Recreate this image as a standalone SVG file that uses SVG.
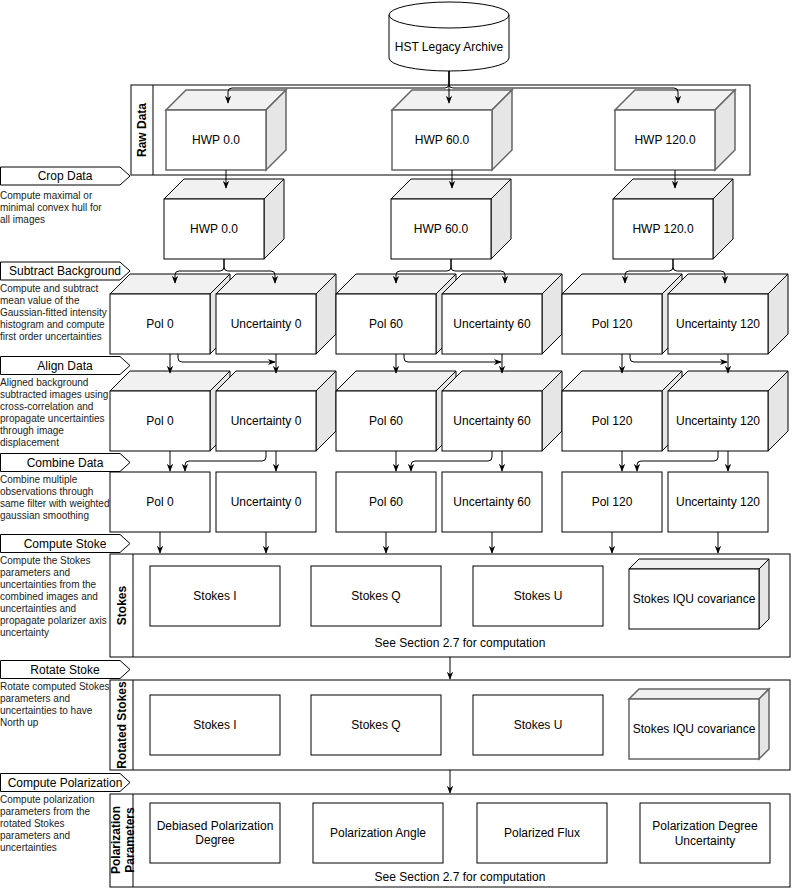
<svg xmlns="http://www.w3.org/2000/svg" width="792" height="894" viewBox="0 0 792 894">
<defs>
<style>
text{font-family:"Liberation Sans",Arial,Helvetica,sans-serif;font-size:12px;fill:#000;text-anchor:middle}
.d{font-size:10px;text-anchor:start;fill:#222}
.b{font-weight:bold}
.n{fill:#fff;stroke:#000;stroke-width:1}
.g{stroke:#666;stroke-width:1.5}
.tp{fill:#f1f1f1}
.sd{fill:#e6e6e6}
.e{fill:none;stroke:#000;stroke-width:1;marker-end:url(#a)}
.l{fill:none;stroke:#000;stroke-width:1}
</style>
<marker id="a" viewBox="0 0 10 10" refX="9" refY="5" markerWidth="8" markerHeight="8" orient="auto" markerUnits="userSpaceOnUse">
<path d="M0,1 L10,5 L0,9 L3,5 Z" fill="#000"/>
</marker>
</defs>
<rect width="792" height="894" fill="#fff"/>

<!-- containers -->
<g id="raw-data">
<rect class="n" x="131" y="85" width="619" height="90"/>
<line class="l" x1="153" y1="85" x2="153" y2="175"/>
<text class="b" transform="translate(142,130) rotate(-90)" y="4">Raw Data</text>
</g>
<g id="stokes">
<rect class="n" x="110" y="554" width="680" height="103"/>
<line class="l" x1="133" y1="554" x2="133" y2="657"/>
<text class="b" transform="translate(121.5,605.5) rotate(-90)" y="4">Stokes</text>
<text x="460" y="647">See Section 2.7 for computation</text>
</g>
<g id="rotated-stokes">
<rect class="n" x="110" y="680" width="680" height="90"/>
<line class="l" x1="133" y1="680" x2="133" y2="770"/>
<text class="b" transform="translate(121.5,725) rotate(-90)" y="4">Rotated Stokes</text>
</g>
<g id="polarization-parameters">
<rect class="n" x="110" y="794" width="680" height="93"/>
<line class="l" x1="133" y1="794" x2="133" y2="887"/>
<text class="b" transform="translate(122.5,840) rotate(-90)"><tspan x="0" y="-2.5">Polarization</tspan><tspan x="0" y="11">Parameters</tspan></text>
<text x="460" y="881">See Section 2.7 for computation</text>
</g>

<!-- source -->
<g id="hst-archive">
<path class="n" d="M389,15 A60,13 0 0 1 509,15 L509,58 A60,13 0 0 1 389,58 Z"/>
<path class="l" d="M389,15 A60,13 0 0 0 509,15"/>
<text x="449" y="51">HST Legacy Archive</text>
</g>

<!-- raw cubes -->
<g id="raw-hwp0">
<path class="n g tp" d="M166,110 L186,90 L286,90 L266,110 Z"/>
<path class="n g sd" d="M266,110 L286,90 L286,150 L266,170 Z"/>
<rect class="n g" x="166" y="110" width="100" height="60"/>
<text x="216" y="144">HWP 0.0</text>
</g>
<g id="raw-hwp60">
<path class="n g tp" d="M392,110 L412,90 L512,90 L492,110 Z"/>
<path class="n g sd" d="M492,110 L512,90 L512,150 L492,170 Z"/>
<rect class="n g" x="392" y="110" width="100" height="60"/>
<text x="442" y="144">HWP 60.0</text>
</g>
<g id="raw-hwp120">
<path class="n g tp" d="M615,110 L635,90 L735,90 L715,110 Z"/>
<path class="n g sd" d="M715,110 L735,90 L735,150 L715,170 Z"/>
<rect class="n g" x="615" y="110" width="100" height="60"/>
<text x="665" y="144">HWP 120.0</text>
</g>

<!-- crop cubes -->
<g id="crop-hwp0">
<path class="n tp" d="M164,199 L184,179 L284,179 L264,199 Z"/>
<path class="n sd" d="M264,199 L284,179 L284,239 L264,259 Z"/>
<rect class="n" x="164" y="199" width="100" height="60"/>
<text x="214" y="233">HWP 0.0</text>
</g>
<g id="crop-hwp60">
<path class="n tp" d="M391,199 L411,179 L511,179 L491,199 Z"/>
<path class="n sd" d="M491,199 L511,179 L511,239 L491,259 Z"/>
<rect class="n" x="391" y="199" width="100" height="60"/>
<text x="441" y="233">HWP 60.0</text>
</g>
<g id="crop-hwp120">
<path class="n tp" d="M613,199 L633,179 L733,179 L713,199 Z"/>
<path class="n sd" d="M713,199 L733,179 L733,239 L713,259 Z"/>
<rect class="n" x="613" y="199" width="100" height="60"/>
<text x="663" y="233">HWP 120.0</text>
</g>

<!-- subtract background row -->
<g id="sub-pol0">
<path class="n tp" d="M110,294 L130,274 L230,274 L210,294 Z"/>
<path class="n sd" d="M210,294 L230,274 L230,334 L210,354 Z"/>
<rect class="n" x="110" y="294" width="100" height="60"/>
<text x="160" y="328">Pol 0</text>
</g>
<g id="sub-unc0">
<path class="n tp" d="M216,294 L236,274 L336,274 L316,294 Z"/>
<path class="n sd" d="M316,294 L336,274 L336,334 L316,354 Z"/>
<rect class="n" x="216" y="294" width="100" height="60"/>
<text x="266" y="328">Uncertainty 0</text>
</g>
<g id="sub-pol60">
<path class="n tp" d="M336,294 L356,274 L456,274 L436,294 Z"/>
<path class="n sd" d="M436,294 L456,274 L456,334 L436,354 Z"/>
<rect class="n" x="336" y="294" width="100" height="60"/>
<text x="386" y="328">Pol 60</text>
</g>
<g id="sub-unc60">
<path class="n tp" d="M442,294 L462,274 L562,274 L542,294 Z"/>
<path class="n sd" d="M542,294 L562,274 L562,334 L542,354 Z"/>
<rect class="n" x="442" y="294" width="100" height="60"/>
<text x="492" y="328">Uncertainty 60</text>
</g>
<g id="sub-pol120">
<path class="n tp" d="M562,294 L582,274 L682,274 L662,294 Z"/>
<path class="n sd" d="M662,294 L682,274 L682,334 L662,354 Z"/>
<rect class="n" x="562" y="294" width="100" height="60"/>
<text x="612" y="328">Pol 120</text>
</g>
<g id="sub-unc120">
<path class="n tp" d="M668,294 L688,274 L788,274 L768,294 Z"/>
<path class="n sd" d="M768,294 L788,274 L788,334 L768,354 Z"/>
<rect class="n" x="668" y="294" width="100" height="60"/>
<text x="718" y="328">Uncertainty 120</text>
</g>

<!-- align row -->
<g id="align-pol0">
<path class="n tp" d="M110,391 L130,371 L230,371 L210,391 Z"/>
<path class="n sd" d="M210,391 L230,371 L230,431 L210,451 Z"/>
<rect class="n" x="110" y="391" width="100" height="60"/>
<text x="160" y="425">Pol 0</text>
</g>
<g id="align-unc0">
<path class="n tp" d="M216,391 L236,371 L336,371 L316,391 Z"/>
<path class="n sd" d="M316,391 L336,371 L336,431 L316,451 Z"/>
<rect class="n" x="216" y="391" width="100" height="60"/>
<text x="266" y="425">Uncertainty 0</text>
</g>
<g id="align-pol60">
<path class="n tp" d="M336,391 L356,371 L456,371 L436,391 Z"/>
<path class="n sd" d="M436,391 L456,371 L456,431 L436,451 Z"/>
<rect class="n" x="336" y="391" width="100" height="60"/>
<text x="386" y="425">Pol 60</text>
</g>
<g id="align-unc60">
<path class="n tp" d="M442,391 L462,371 L562,371 L542,391 Z"/>
<path class="n sd" d="M542,391 L562,371 L562,431 L542,451 Z"/>
<rect class="n" x="442" y="391" width="100" height="60"/>
<text x="492" y="425">Uncertainty 60</text>
</g>
<g id="align-pol120">
<path class="n tp" d="M562,391 L582,371 L682,371 L662,391 Z"/>
<path class="n sd" d="M662,391 L682,371 L682,431 L662,451 Z"/>
<rect class="n" x="562" y="391" width="100" height="60"/>
<text x="612" y="425">Pol 120</text>
</g>
<g id="align-unc120">
<path class="n tp" d="M668,391 L688,371 L788,371 L768,391 Z"/>
<path class="n sd" d="M768,391 L788,371 L788,431 L768,451 Z"/>
<rect class="n" x="668" y="391" width="100" height="60"/>
<text x="718" y="425">Uncertainty 120</text>
</g>

<!-- combine row -->
<g id="comb-pol0"><rect class="n" x="110" y="472" width="100" height="60"/><text x="160" y="506">Pol 0</text></g>
<g id="comb-unc0"><rect class="n" x="216" y="472" width="100" height="60"/><text x="266" y="506">Uncertainty 0</text></g>
<g id="comb-pol60"><rect class="n" x="336" y="472" width="100" height="60"/><text x="386" y="506">Pol 60</text></g>
<g id="comb-unc60"><rect class="n" x="442" y="472" width="100" height="60"/><text x="492" y="506">Uncertainty 60</text></g>
<g id="comb-pol120"><rect class="n" x="562" y="472" width="100" height="60"/><text x="612" y="506">Pol 120</text></g>
<g id="comb-unc120"><rect class="n" x="668" y="472" width="100" height="60"/><text x="718" y="506">Uncertainty 120</text></g>

<!-- stokes -->
<g id="stokes-i"><rect class="n" x="150" y="566" width="130" height="60"/><text x="215" y="600">Stokes I</text></g>
<g id="stokes-q"><rect class="n" x="311" y="566" width="130" height="60"/><text x="376" y="600">Stokes Q</text></g>
<g id="stokes-u"><rect class="n" x="473" y="566" width="130" height="60"/><text x="538" y="600">Stokes U</text></g>
<g id="stokes-cov">
<path class="n tp" d="M629,569 L639,559 L769,559 L759,569 Z"/>
<path class="n sd" d="M759,569 L769,559 L769,619 L759,629 Z"/>
<rect class="n" x="629" y="569" width="130" height="60"/>
<text x="694" y="603">Stokes IQU covariance</text>
</g>

<!-- rotated stokes -->
<g id="rot-i"><rect class="n" x="150" y="695" width="130" height="60"/><text x="215" y="729">Stokes I</text></g>
<g id="rot-q"><rect class="n" x="311" y="695" width="130" height="60"/><text x="376" y="729">Stokes Q</text></g>
<g id="rot-u"><rect class="n" x="473" y="695" width="130" height="60"/><text x="538" y="729">Stokes U</text></g>
<g id="rot-cov">
<path class="n g tp" d="M629,699 L639,689 L769,689 L759,699 Z"/>
<path class="n g sd" d="M759,699 L769,689 L769,749 L759,759 Z"/>
<rect class="n g" x="629" y="699" width="130" height="60"/>
<text x="694" y="733">Stokes IQU covariance</text>
</g>

<!-- polarization parameters -->
<g id="pol-debiased"><rect class="n" x="150" y="803" width="130" height="60"/><text x="215"><tspan x="215" y="830">Debiased Polarization</tspan><tspan x="215" y="844">Degree</tspan></text></g>
<g id="pol-angle"><rect class="n" x="313" y="803" width="130" height="60"/><text x="378" y="837">Polarization Angle</text></g>
<g id="pol-flux"><rect class="n" x="477" y="803" width="130" height="60"/><text x="542" y="837">Polarized Flux</text></g>
<g id="pol-deg-unc"><rect class="n" x="640" y="803" width="130" height="60"/><text x="705"><tspan x="705" y="830">Polarization Degree</tspan><tspan x="705" y="845">Uncertainty</tspan></text></g>

<!-- step labels -->
<g id="step-crop">
<path class="n" d="M0.5,167 L120,167 L130,176 L120,185 L0.5,185 Z"/>
<text x="65" y="180">Crop Data</text>
<text class="d"><tspan x="0" y="199">Compute maximal or</tspan><tspan x="0" y="211">minimal convex hull for</tspan><tspan x="0" y="223">all images</tspan></text>
</g>
<g id="step-subtract">
<path class="n" d="M0.5,262 L120,262 L130,271 L120,280 L0.5,280 Z"/>
<text x="65" y="275">Subtract Background</text>
<text class="d"><tspan x="0" y="292">Compute and subtract</tspan><tspan x="0" y="304">mean value of the</tspan><tspan x="0" y="316">Gaussian-fitted intensity</tspan><tspan x="0" y="328">histogram and compute</tspan><tspan x="0" y="340">first order uncertainties</tspan></text>
</g>
<g id="step-align">
<path class="n" d="M0.5,356.5 L120,356.5 L130,365.5 L120,374.5 L0.5,374.5 Z"/>
<text x="65" y="369.5">Align Data</text>
<text class="d"><tspan x="0" y="386">Aligned background</tspan><tspan x="0" y="398">subtracted images using</tspan><tspan x="0" y="410">cross-correlation and</tspan><tspan x="0" y="422">propagate uncertainties</tspan><tspan x="0" y="434">through image</tspan><tspan x="0" y="446">displacement</tspan></text>
</g>
<g id="step-combine">
<path class="n" d="M0.5,453.5 L120,453.5 L130,462.5 L120,471.5 L0.5,471.5 Z"/>
<text x="65" y="466.5">Combine Data</text>
<text class="d"><tspan x="0" y="483">Combine multiple</tspan><tspan x="0" y="495">observations through</tspan><tspan x="0" y="507">same filter with weighted</tspan><tspan x="0" y="519">gaussian smoothing</tspan></text>
</g>
<g id="step-compute-stoke">
<path class="n" d="M0.5,534.5 L120,534.5 L130,543.5 L120,552.5 L0.5,552.5 Z"/>
<text x="65" y="547.5">Compute Stoke</text>
<text class="d"><tspan x="0" y="564">Compute the Stokes</tspan><tspan x="0" y="576">parameters and</tspan><tspan x="0" y="588">uncertainties from the</tspan><tspan x="0" y="600">combined images and</tspan><tspan x="0" y="612">uncertainties and</tspan><tspan x="0" y="624">propagate polarizer axis</tspan><tspan x="0" y="636">uncertainty</tspan></text>
</g>
<g id="step-rotate">
<path class="n" d="M0.5,660.5 L120,660.5 L130,669.5 L120,678.5 L0.5,678.5 Z"/>
<text x="65" y="673.5">Rotate Stoke</text>
<text class="d"><tspan x="0" y="690">Rotate computed Stokes</tspan><tspan x="0" y="702">parameters and</tspan><tspan x="0" y="714">uncertainties to have</tspan><tspan x="0" y="726">North up</tspan></text>
</g>
<g id="step-compute-pol">
<path class="n" d="M0.5,773.5 L120,773.5 L130,782.5 L120,791.5 L0.5,791.5 Z"/>
<text x="65" y="786.5">Compute Polarization</text>
<text class="d"><tspan x="0" y="803">Compute polarization</tspan><tspan x="0" y="815">parameters from the</tspan><tspan x="0" y="827">rotated Stokes</tspan><tspan x="0" y="839">parameters and</tspan><tspan x="0" y="851">uncertainties</tspan></text>
</g>

<!-- connectors -->
<g id="connectors">
<path class="e" d="M449,71 L449,84 Q449,88 445,88 L232,88 Q228,88 228,92 L228,103"/>
<path class="e" d="M449,71 L449,103"/>
<path class="e" d="M449,71 L449,84 Q449,88 453,88 L674,88 Q678,88 678,92 L678,103"/>
<path class="e" d="M226,170 L226,188"/>
<path class="e" d="M452,170 L452,188"/>
<path class="e" d="M675,170 L675,188"/>

<path class="e" d="M224,259 L224,267 Q224,271 220,271 L179,271 Q175,271 175,275 L175,283"/>
<path class="e" d="M224,259 L224,267 Q224,271 228,271 L271,271 Q275,271 275,275 L275,283"/>
<path class="e" d="M451,259 L451,267 Q451,271 447,271 L400,271 Q396,271 396,275 L396,283"/>
<path class="e" d="M451,259 L451,267 Q451,271 455,271 L501,271 Q505,271 505,275 L505,283"/>
<path class="e" d="M673,259 L673,267 Q673,271 669,271 L629,271 Q625,271 625,275 L625,283"/>
<path class="e" d="M673,259 L673,267 Q673,271 677,271 L721,271 Q725,271 725,275 L725,283"/>

<path class="e" d="M170,354 L170,373"/>
<path class="e" d="M178,354 L178,358 Q178,362 182,362 L275,362"/>
<path class="e" d="M276,354 L276,373"/>
<path class="e" d="M396,354 L396,373"/>
<path class="e" d="M404,354 L404,358 Q404,362 408,362 L501,362"/>
<path class="e" d="M502,354 L502,373"/>
<path class="e" d="M622,354 L622,373"/>
<path class="e" d="M630,354 L630,358 Q630,362 634,362 L727,362"/>
<path class="e" d="M728,354 L728,373"/>

<path class="e" d="M170,451 L170,471"/>
<path class="e" d="M266,451 L266,457 Q266,461 262,461 L189,461 Q185,461 185,465 L185,471"/>
<path class="e" d="M276,451 L276,471"/>
<path class="e" d="M396,451 L396,471"/>
<path class="e" d="M492,451 L492,457 Q492,461 488,461 L415,461 Q411,461 411,465 L411,471"/>
<path class="e" d="M502,451 L502,471"/>
<path class="e" d="M622,451 L622,471"/>
<path class="e" d="M718,451 L718,457 Q718,461 714,461 L641,461 Q637,461 637,465 L637,471"/>
<path class="e" d="M728,451 L728,471"/>

<path class="e" d="M160,532 L160,553"/>
<path class="e" d="M266,532 L266,553"/>
<path class="e" d="M386,532 L386,553"/>
<path class="e" d="M492,532 L492,553"/>
<path class="e" d="M612,532 L612,553"/>
<path class="e" d="M718,532 L718,553"/>

<path class="e" d="M450,657 L450,679"/>
<path class="e" d="M450,770 L450,793"/>
</g>
</svg>
